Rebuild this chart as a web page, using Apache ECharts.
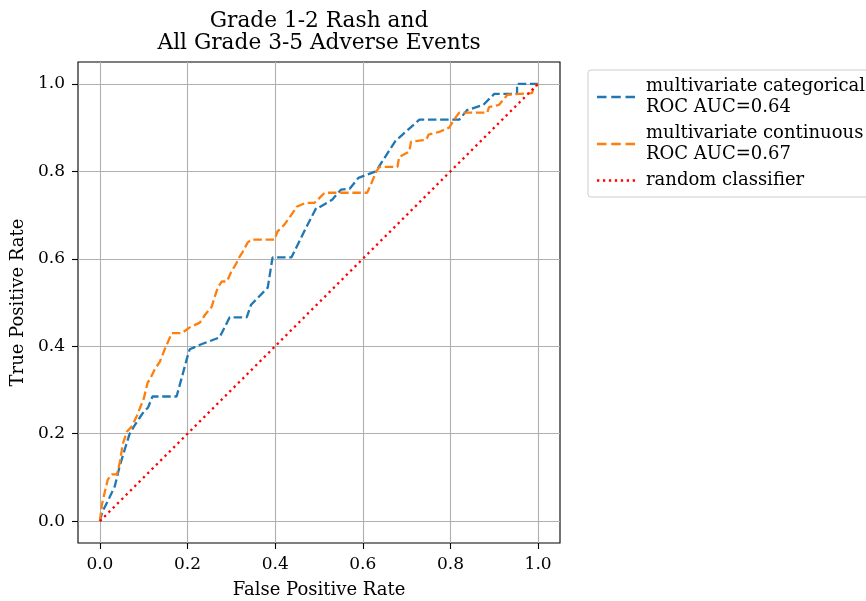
<!DOCTYPE html>
<html><head><meta charset="utf-8">
<script src="https://cdn.jsdelivr.net/npm/echarts@6/dist/echarts.min.js"></script>
<style>html,body{margin:0;padding:0;background:#fff}#c{width:866px;height:601px}</style>
</head><body><div id="c"></div>
<script>
const titleLines = ['Grade 1-2 Rash and', 'All Grade 3-5 Adverse Events'];
const tickValues = [0, 0.2, 0.4, 0.6, 0.8, 1.0];
const catName = 'multivariate categorical\nROC AUC=0.64';
const contName = 'multivariate continuous\nROC AUC=0.67';
const randName = 'random classifier';
const catFpr = [0,0.005,0.02,0.034,0.045,0.057,0.068,0.08,0.091,0.1,0.11,0.12,0.175,0.19,0.198,0.205,0.23,0.273,0.296,0.335,0.345,0.383,0.394,0.437,0.47,0.494,0.50,0.53,0.55,0.57,0.59,0.63,0.676,0.683,0.729,0.82,0.838,0.875,0.9,0.952,0.952,1.0];
const catTpr = [0,0.02,0.05,0.08,0.125,0.165,0.2,0.22,0.237,0.25,0.26,0.285,0.285,0.34,0.37,0.393,0.404,0.42,0.466,0.466,0.495,0.534,0.603,0.603,0.67,0.717,0.717,0.735,0.758,0.76,0.785,0.80,0.872,0.877,0.918,0.918,0.94,0.952,0.977,0.977,1.0,1.0];
const contFpr = [0,0.005,0.011,0.018,0.027,0.039,0.046,0.052,0.062,0.073,0.084,0.1,0.109,0.114,0.125,0.137,0.148,0.155,0.164,0.187,0.205,0.228,0.24,0.255,0.262,0.269,0.278,0.29,0.30,0.31,0.319,0.326,0.337,0.346,0.399,0.405,0.421,0.44,0.449,0.47,0.49,0.513,0.61,0.62,0.631,0.638,0.679,0.683,0.706,0.71,0.745,0.75,0.774,0.797,0.813,0.82,0.884,0.888,0.911,0.93,0.986,0.991,1.0];
const contTpr = [0,0.04,0.066,0.095,0.107,0.107,0.137,0.176,0.205,0.217,0.24,0.28,0.317,0.324,0.347,0.365,0.393,0.409,0.43,0.43,0.443,0.454,0.472,0.49,0.513,0.534,0.548,0.548,0.571,0.587,0.605,0.616,0.637,0.644,0.644,0.662,0.678,0.705,0.719,0.728,0.728,0.751,0.751,0.774,0.80,0.81,0.81,0.833,0.845,0.868,0.872,0.884,0.89,0.9,0.925,0.934,0.934,0.947,0.952,0.975,0.979,0.993,1.0];
const randFpr = [0, 1];
const randTpr = [0, 1];

const FONT = 'DejaVu Serif';
const zip = (a, b) => a.map((v, i) => [v, b[i]]);
const dashIcon = 'path://M0,0H9.5V2.3H0Z M14.25,0H23.75V2.3H14.25Z M28.5,0H38V2.3H28.5Z';
const dotIcon = 'path://' + [0, 5.95, 11.9, 17.85, 23.8, 29.75, 35.7].map(x => `M${x},0H${x + 2.3}V2.3H${x}Z`).join(' ');
const chart = echarts.init(document.getElementById('c'), null, {renderer: 'canvas'});
const axisCommon = {
  type: 'value', min: -0.05, max: 1.05,
  axisLine: {show: false, onZero: false},
  axisTick: {show: true, customValues: tickValues, length: 6, inside: false, lineStyle: {color: '#000', width: 1.1}},
  axisLabel: {customValues: tickValues, formatter: v => v.toFixed(1), fontFamily: FONT, fontSize: 17, color: '#000', margin: 13},
  splitLine: {show: true, lineStyle: {color: '#b0b0b0', width: 1.1}},
  nameLocation: 'middle',
  nameTextStyle: {fontFamily: FONT, fontSize: 18, color: '#000'}
};
chart.setOption({
  animation: false,
  backgroundColor: '#fff',
  graphic: titleLines.map((t, i) => ({
    type: 'text', x: 319, y: 21 + i * 22,
    style: {text: t, font: '21.7px "DejaVu Serif"', fill: '#000', textAlign: 'center', textVerticalAlign: 'middle'}
  })),
  grid: {left: 78, top: 62, width: 482, height: 481, show: true, borderColor: '#000', borderWidth: 1.1,
    backgroundColor: '#fff', containLabel: false, outerBoundsMode: 'none'},
  xAxis: Object.assign({}, axisCommon, {name: 'False Positive Rate', nameGap: 38,
    axisLabel: Object.assign({}, axisCommon.axisLabel, {margin: 13})}),
  yAxis: Object.assign({}, axisCommon, {name: 'True Positive Rate', nameGap: 50}),
  legend: {
    orient: 'vertical', left: 588, top: 70,
    padding: [6, 40, 6, 9], itemGap: 5, itemWidth: 38, itemHeight: 2.3,
    borderColor: '#cccccc', borderWidth: 1, borderRadius: 3, backgroundColor: '#fff',
    textStyle: {fontFamily: FONT, fontSize: 18, color: '#000', lineHeight: 21, padding: [0, 0, 0, 6]},
    data: [{name: catName, icon: dashIcon}, {name: contName, icon: dashIcon}, {name: randName, icon: dotIcon}]
  },
  series: [
    {name: catName, type: 'line', data: zip(catFpr, catTpr), showSymbol: false, symbol: 'none', z: 3,
     lineStyle: {color: '#1f77b4', width: 2.3, type: [8.5, 3.7]}, itemStyle: {color: '#1f77b4'}},
    {name: contName, type: 'line', data: zip(contFpr, contTpr), showSymbol: false, symbol: 'none', z: 4,
     lineStyle: {color: '#ff7f0e', width: 2.3, type: [8.5, 3.7]}, itemStyle: {color: '#ff7f0e'}},
    {name: randName, type: 'line', data: zip(randFpr, randTpr), showSymbol: false, symbol: 'none', z: 5,
     lineStyle: {color: '#ff0000', width: 2.3, type: [2.3, 3.8]}, itemStyle: {color: '#ff0000'}}
  ]
});
</script></body></html>
